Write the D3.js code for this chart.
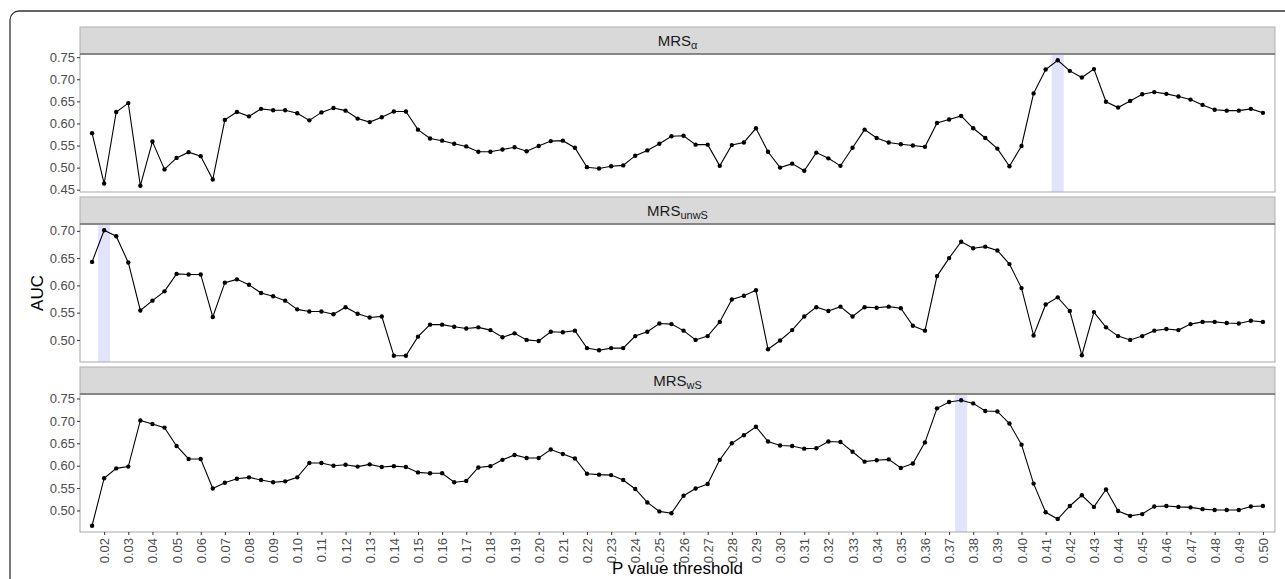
<!DOCTYPE html>
<html>
<head>
<meta charset="utf-8">
<script src="https://cdn.jsdelivr.net/npm/d3@7"></script>
<style>
  body { margin: 0; background: #fff; }
  svg { display: block; font-family: "Liberation Sans", Arial, sans-serif; }
</style>
</head>
<body>
<div id="chart"></div>
<script>
// P value thresholds (0.015 .. 0.50, step 0.005)
const thresholds = d3.range(3, 101).map(i => +(i * 0.005).toFixed(3));
const xTickValues = d3.range(2, 51).map(i => i / 100);

// AUC per threshold
const aucAlpha = [
  0.578, 0.464, 0.626, 0.646, 0.459, 0.559, 0.496, 0.522, 0.535, 0.526,
  0.473, 0.608, 0.626, 0.616, 0.633, 0.630, 0.630, 0.623, 0.607, 0.625,
  0.635, 0.629, 0.611, 0.603, 0.614, 0.627, 0.627, 0.586, 0.566, 0.561,
  0.554, 0.548, 0.536, 0.536, 0.541, 0.546, 0.537, 0.549, 0.560, 0.561,
  0.545, 0.501, 0.498, 0.503, 0.505, 0.527, 0.539, 0.554, 0.571, 0.572,
  0.552, 0.552, 0.504, 0.551, 0.557, 0.589, 0.536, 0.500, 0.509, 0.493,
  0.534, 0.521, 0.504, 0.545, 0.586, 0.567, 0.557, 0.553, 0.550, 0.547,
  0.601, 0.609, 0.617, 0.589, 0.567, 0.543, 0.503, 0.549, 0.668, 0.722,
  0.743, 0.719, 0.704, 0.723, 0.649, 0.636, 0.651, 0.666, 0.671, 0.667,
  0.661, 0.654, 0.642, 0.631, 0.629, 0.629, 0.633, 0.624
];
const aucUnwS = [
  0.643, 0.701, 0.690, 0.642, 0.554, 0.572, 0.589, 0.621, 0.620, 0.620,
  0.542, 0.605, 0.611, 0.601, 0.586, 0.580, 0.572, 0.556, 0.552, 0.552,
  0.547, 0.560, 0.548, 0.541, 0.543, 0.471, 0.471, 0.506, 0.528, 0.528,
  0.524, 0.521, 0.523, 0.518, 0.505, 0.512, 0.500, 0.498, 0.515, 0.514,
  0.517, 0.485, 0.481, 0.485, 0.485, 0.507, 0.515, 0.530, 0.529, 0.517,
  0.500, 0.507, 0.533, 0.574, 0.581, 0.591, 0.483, 0.499, 0.518, 0.543,
  0.560, 0.553, 0.561, 0.543, 0.560, 0.559, 0.561, 0.558, 0.526, 0.517,
  0.617, 0.650, 0.680, 0.668, 0.671, 0.664, 0.639, 0.595, 0.508, 0.565,
  0.578, 0.553, 0.472, 0.551, 0.523, 0.507, 0.500, 0.507, 0.517, 0.520,
  0.518, 0.529, 0.533, 0.533, 0.531, 0.530, 0.535, 0.533
];
const aucWS = [
  0.466, 0.572, 0.594, 0.598, 0.701, 0.693, 0.685, 0.644, 0.615, 0.615,
  0.549, 0.562, 0.571, 0.574, 0.568, 0.563, 0.565, 0.574, 0.606, 0.606,
  0.600, 0.602, 0.598, 0.603, 0.597, 0.599, 0.597, 0.585, 0.583, 0.583,
  0.563, 0.566, 0.596, 0.599, 0.613, 0.624, 0.617, 0.617, 0.636, 0.626,
  0.616, 0.582, 0.580, 0.579, 0.568, 0.548, 0.518, 0.498, 0.494, 0.533,
  0.549, 0.559, 0.613, 0.650, 0.668, 0.687, 0.654, 0.645, 0.644, 0.638,
  0.639, 0.654, 0.653, 0.631, 0.609, 0.612, 0.614, 0.595, 0.605, 0.652,
  0.728, 0.742, 0.746, 0.739, 0.722, 0.721, 0.694, 0.647, 0.560, 0.496,
  0.481, 0.510, 0.534, 0.508, 0.547, 0.499, 0.488, 0.492, 0.509, 0.510,
  0.508, 0.507, 0.503, 0.501, 0.501, 0.501, 0.509, 0.510
];

// panel labels, best threshold and y ticks
const panelNames = ["MRS", "MRS", "MRS"];
const panelSubs = ["\u03b1", "unwS", "wS"];
const bestThreshold = [0.415, 0.02, 0.375];
const yTicks = [
  [0.45, 0.50, 0.55, 0.60, 0.65, 0.70, 0.75],
  [0.50, 0.55, 0.60, 0.65, 0.70],
  [0.50, 0.55, 0.60, 0.65, 0.70, 0.75]
];
const series = [aucAlpha, aucUnwS, aucWS];

const width = 1285, height = 579;
const left = 80, right = 1275;
// strip top / panel top / panel bottom for each facet
const layout = [
  { strip: 27, top: 54, bottom: 192 },
  { strip: 197, top: 224, bottom: 362 },
  { strip: 367, top: 394, bottom: 532 }
];

const svg = d3.select("#chart").append("svg")
  .attr("width", width)
  .attr("height", height);

// outer rounded frame
svg.append("rect")
  .attr("x", 10).attr("y", 11)
  .attr("width", 1300).attr("height", 600)
  .attr("rx", 9)
  .attr("fill", "none")
  .attr("stroke", "#333")
  .attr("stroke-width", 1.3);

const x = d3.scaleLinear().domain([0.010, 0.505]).range([left, right]);
const step = 0.005;

series.forEach((vals, i) => {
  const L = layout[i];
  const data = thresholds.map((t, j) => ({ t: t, v: vals[j] }));
  const ext = d3.extent(vals);
  const pad = (ext[1] - ext[0]) * 0.05;
  const y = d3.scaleLinear().domain([ext[0] - pad, ext[1] + pad]).range([L.bottom, L.top]);

  const g = svg.append("g");

  // strip
  g.append("rect")
    .attr("x", left).attr("y", L.strip)
    .attr("width", right - left).attr("height", L.top - L.strip)
    .attr("fill", "#d9d9d9")
    .attr("stroke", "#b0b0b0");
  const label = g.append("text")
    .attr("x", (left + right) / 2)
    .attr("y", (L.strip + L.top) / 2 + 5.5)
    .attr("text-anchor", "middle")
    .attr("font-size", 15)
    .attr("fill", "#1a1a1a");
  label.append("tspan").text(panelNames[i]);
  label.append("tspan").attr("dy", 3).attr("font-size", 11).text(panelSubs[i]);

  // highlight of the best threshold
  g.append("rect")
    .attr("x", x(bestThreshold[i] - step / 2))
    .attr("width", x(bestThreshold[i] + step / 2) - x(bestThreshold[i] - step / 2))
    .attr("y", L.top)
    .attr("height", L.bottom - L.top)
    .attr("fill", "#e3e3fb");

  // panel border
  g.append("rect")
    .attr("x", left).attr("y", L.top)
    .attr("width", right - left).attr("height", L.bottom - L.top)
    .attr("fill", "none")
    .attr("stroke", "#a8a8a8");
  g.append("line")
    .attr("x1", left).attr("x2", right)
    .attr("y1", L.top).attr("y2", L.top)
    .attr("stroke", "#555").attr("stroke-width", 1.2);

  // y axis
  const ya = g.append("g")
    .attr("transform", `translate(${left},0)`)
    .call(d3.axisLeft(y).tickValues(yTicks[i]).tickFormat(d3.format(".2f")).tickSize(3).tickPadding(2));
  ya.select(".domain").remove();
  ya.selectAll("line").attr("stroke", "#333");
  ya.selectAll("text").attr("font-size", 13).attr("fill", "#4d4d4d")
    .attr("font-family", "Liberation Sans, Arial, sans-serif");

  // line and points
  g.append("path")
    .datum(data)
    .attr("fill", "none")
    .attr("stroke", "#000")
    .attr("stroke-width", 1.1)
    .attr("d", d3.line().x(d => x(d.t)).y(d => y(d.v)));

  g.selectAll(".dot")
    .data(data)
    .enter().append("circle")
    .attr("cx", d => x(d.t))
    .attr("cy", d => y(d.v))
    .attr("r", 2.2)
    .attr("fill", "#000");

  // x axis only under the last facet
  if (i === series.length - 1) {
    const xa = g.append("g")
      .attr("transform", `translate(0,${L.bottom})`)
      .call(d3.axisBottom(x).tickValues(xTickValues).tickFormat(d3.format(".2f")).tickSize(3).tickPadding(3));
    xa.select(".domain").remove();
    xa.selectAll("line").attr("stroke", "#333");
    xa.selectAll("text")
      .attr("font-size", 13)
      .attr("fill", "#4d4d4d")
      .attr("font-family", "Liberation Sans, Arial, sans-serif")
      .attr("transform", "rotate(-90)")
      .attr("text-anchor", "end")
      .attr("x", -6)
      .attr("y", 0)
      .attr("dy", "0.35em");
  }
});

// axis titles
svg.append("text")
  .attr("transform", "translate(43,293) rotate(-90)")
  .attr("text-anchor", "middle")
  .attr("font-size", 17)
  .attr("fill", "#000")
  .text("AUC");

svg.append("text")
  .attr("x", (left + right) / 2)
  .attr("y", 574)
  .attr("text-anchor", "middle")
  .attr("font-size", 17)
  .attr("fill", "#000")
  .text("P value threshold");
</script>
</body>
</html>
